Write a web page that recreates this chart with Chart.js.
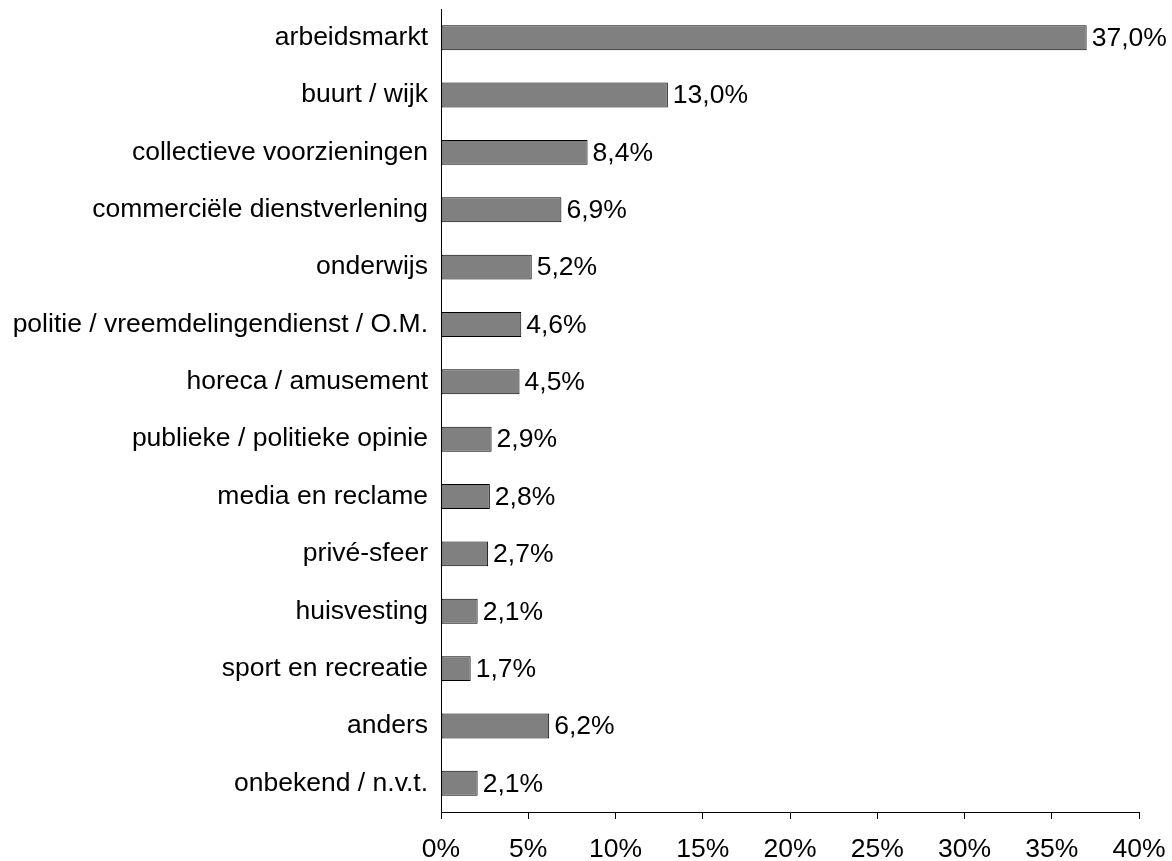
<!DOCTYPE html>
<html>
<head>
<meta charset="utf-8">
<script src="https://cdn.jsdelivr.net/npm/chart.js@4"></script>
<style>
  html, body { margin: 0; padding: 0; background: #fff; }
  #wrap { width: 1172px; height: 861px; }
</style>
</head>
<body>
<div id="wrap"><canvas id="bar-chart"></canvas></div>
<script>
// categorieën en percentages
var categories = ['arbeidsmarkt', 'buurt / wijk', 'collectieve voorzieningen', 'commerciële dienstverlening',
    'onderwijs', 'politie / vreemdelingendienst / O.M.', 'horeca / amusement', 'publieke / politieke opinie',
    'media en reclame', 'privé-sfeer', 'huisvesting', 'sport en recreatie', 'anders', 'onbekend / n.v.t.'];
var percentages = [37.0, 13.0, 8.4, 6.9, 5.2, 4.6, 4.5, 2.9, 2.8, 2.7, 2.1, 1.7, 6.2, 2.1];
var xTicks = [0, 5, 10, 15, 20, 25, 30, 35, 40];

var fontFam = '"Liberation Sans", Arial, sans-serif';
var fontSize = 26.5;

// labels rechts van de balken
var valueLabels = {
    id: 'valueLabels',
    afterDatasetsDraw: function (chart) {
        var ctx = chart.ctx;
        var meta = chart.getDatasetMeta(0);
        ctx.save();
        ctx.font = fontSize + 'px ' + fontFam;
        ctx.fillStyle = '#000';
        ctx.textAlign = 'left';
        ctx.textBaseline = 'middle';
        meta.data.forEach(function (bar, i) {
            ctx.fillText(percentages[i].toFixed(1).replace('.', ',') + '%', bar.x + 5, bar.y + 1);
        });
        ctx.restore();
    }
};

new Chart(document.getElementById('bar-chart'), {
    type: 'bar',
    data: {
        labels: categories,
        datasets: [{
            data: percentages,
            backgroundColor: '#808080',
            borderColor: '#000',
            borderWidth: 1,
            borderSkipped: false,
            barPercentage: 0.87,
            categoryPercentage: 0.5
        }]
    },
    options: {
        indexAxis: 'y',
        responsive: true,
        maintainAspectRatio: false,
        devicePixelRatio: 1,
        animation: false,
        layout: { padding: { top: 9, right: 33, left: 0, bottom: 0 } },
        plugins: {
            legend: { display: false },
            tooltip: { enabled: false }
        },
        scales: {
            x: {
                min: 0,
                max: 40,
                afterBuildTicks: function (scale) {
                    scale.ticks = xTicks.map(function (v) { return { value: v }; });
                },
                afterFit: function (scale) {
                    scale.height = 49;
                    scale.paddingLeft = 0;
                    scale.paddingRight = 0;
                },
                grid: { drawOnChartArea: false, drawTicks: true, tickLength: 7, tickColor: '#000' },
                border: { display: true, color: '#000', width: 1 },
                ticks: {
                    color: '#000',
                    font: { family: fontFam, size: fontSize },
                    padding: 15,
                    maxRotation: 0,
                    callback: function (v) { return v + '%'; }
                }
            },
            y: {
                afterFit: function (scale) {
                    scale.width = 441;
                    scale.paddingTop = 0;
                    scale.paddingBottom = 0;
                },
                grid: { drawOnChartArea: false, drawTicks: false },
                border: { display: true, color: '#000', width: 1 },
                ticks: {
                    color: '#000',
                    font: { family: fontFam, size: fontSize },
                    padding: 13,
                    autoSkip: false
                }
            }
        }
    },
    plugins: [valueLabels]
});
</script>
</body>
</html>
